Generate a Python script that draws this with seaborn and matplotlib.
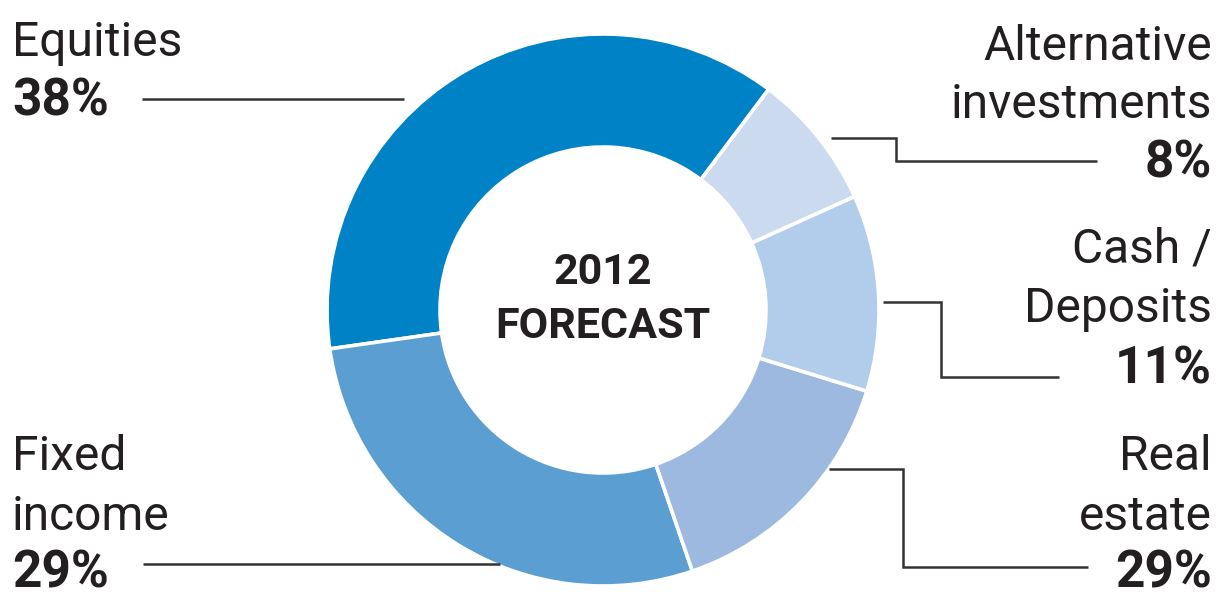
import matplotlib
matplotlib.use("Agg")
import matplotlib.pyplot as plt
import seaborn as sns
from matplotlib import font_manager as fm

# ---------------- data ----------------
categories = ["Equities", "Fixed income", "Real estate", "Cash / Deposits", "Alternative investments"]
# slice sizes as drawn in the reference (angles measured)
shares = [37.5, 28.0, 15.0, 11.5, 8.0]
# percentage labels as printed in the reference
pct_labels = ["38%", "29%", "29%", "11%", "8%"]
name_lines = [["Equities"], ["Fixed", "income"], ["Real", "estate"],
              ["Cash /", "Deposits"], ["Alternative", "investments"]]
slice_colors = ["#0082C6", "#5B9FD2", "#9DB9E0", "#B2CDEB", "#CBDAEE"]
center_title = ["2012", "FORECAST"]

# ---------------- style ----------------
sns.set_theme(style="white")


def pick(cands):
    for c in cands:
        try:
            fm.findfont(fm.FontProperties(family=c), fallback_to_default=False)
            return c
        except Exception:
            pass
    return "DejaVu Sans"


fam = pick(["Roboto", "Liberation Sans", "Noto Sans"])
plt.rcParams["font.family"] = [fam, "DejaVu Sans"]

W, H = 1227, 596
TXT = "#231F20"
LINE = "#333333"

fig = plt.figure(figsize=(W / 100, H / 100), dpi=100)
fig.patch.set_facecolor("white")
ax = fig.add_axes([0, 0, 1, 1])

palette = sns.color_palette(slice_colors)
cx, cy, R = 603, H - 310, 276
ax.pie(shares, colors=palette, startangle=53.1, counterclock=True,
       center=(cx, cy), radius=R,
       wedgeprops=dict(width=113, edgecolor="white", linewidth=2.6))
ax.set_xlim(0, W)
ax.set_ylim(0, H)
ax.set_aspect("equal")
ax.axis("off")

# ---------------- leader lines (image pixel coords) ----------------
leaders = [
    [(142, 99), (404, 99)],                                   # Equities
    [(143, 564), (500, 564)],                                 # Fixed income
    [(829, 469), (903, 469), (903, 567), (1088, 567)],        # Real estate
    [(883, 302), (941, 302), (941, 377), (1059, 377)],        # Cash
    [(831, 138), (896, 138), (896, 161), (1097, 161)],        # Alternative
]
for pts in leaders:
    xs = [p[0] for p in pts]
    ys = [H - p[1] for p in pts]
    ax.plot(xs, ys, color=LINE, lw=1.8, solid_capstyle="butt",
            solid_joinstyle="miter")

# ---------------- labels ----------------
NAME_FS = 34.5
PCT_FS = 37
# (x, align, baselines of name lines..., baseline of pct)
label_pos = [
    (12, "left", [56], 116),
    (12, "left", [470, 530], 587),
    (1212, "right", [470, 530], 587),
    (1212, "right", [262, 322], 384),
    (1212, "right", [60, 118], 178),
]
for (x, ha, name_bl, pct_bl), names, pct in zip(label_pos, name_lines, pct_labels):
    for s, b in zip(names, name_bl):
        ax.text(x, H - b, s, ha=ha, va="baseline", fontsize=NAME_FS,
                color=TXT)
    ax.text(x, H - pct_bl, pct, ha=ha, va="baseline", fontsize=PCT_FS,
            fontweight="bold", color=TXT)

# center title
for s, b in zip(center_title, [284, 338]):
    ax.text(cx, H - b, s, ha="center", va="baseline", fontsize=31,
            fontweight="bold", color=TXT)

fig.savefig("out.png", dpi=100, facecolor="white")
